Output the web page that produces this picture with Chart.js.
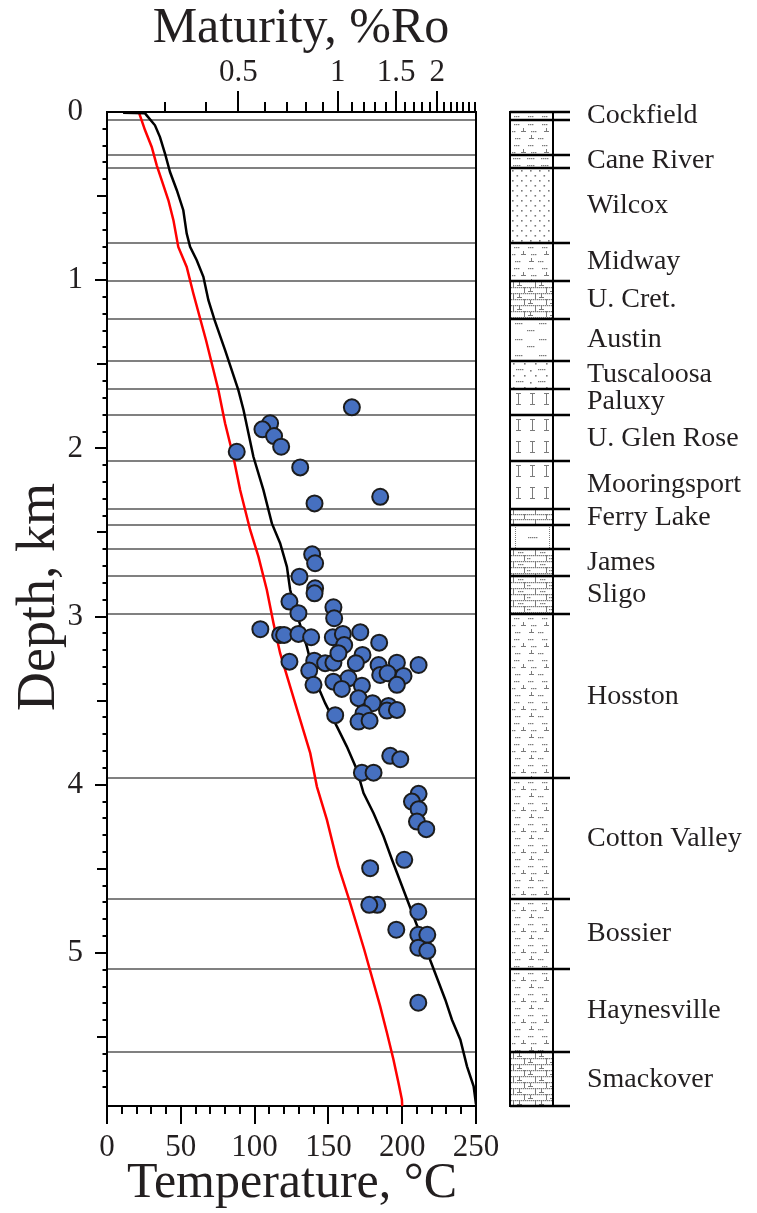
<!DOCTYPE html>
<html>
<head>
<meta charset="utf-8">
<script src="https://cdn.jsdelivr.net/npm/chart.js@4.4.1/dist/chart.umd.min.js"></script>
<style>
  html, body { margin: 0; padding: 0; background: #ffffff; }
  #wrap { position: relative; width: 757px; height: 1213px; }
  #wrap canvas { position: absolute; left: 0; top: 0; }
</style>
</head>
<body>
<div id="wrap">
  <canvas id="profile" width="757" height="1213"></canvas>
  <canvas id="column" width="757" height="1213"></canvas>
</div>
<script>
// ---- Well data -------------------------------------------------------------
// Measured temperatures (°C) and their depths (km)
const sampleTemp = [165.9, 110.5, 105.3, 113.2, 118.0, 87.9, 130.9, 185.1, 140.6, 139.0,
  141.0, 130.4, 141.0, 140.6, 153.4, 123.6, 129.7, 153.9, 103.9, 117.3,
  120.0, 129.7, 138.3, 153.0, 159.8, 171.6, 184.4, 160.7, 123.6, 140.4,
  147.8, 153.4, 156.8, 173.1, 168.6, 137.0, 184.0, 196.4, 211.1, 185.1,
  190.1, 200.9, 163.6, 153.4, 139.9, 172.7, 196.4, 159.1, 170.4, 179.9,
  190.7, 189.7, 196.4, 173.8, 170.4, 177.9, 154.6, 191.9, 198.7, 172.7,
  180.6, 211.1, 206.6, 211.1, 210.0, 216.3, 201.4, 178.3, 183.1, 177.7,
  210.9, 196.0, 210.9, 217.0, 210.9, 217.0, 210.9];
const sampleDepth = [1.756, 1.851, 1.887, 1.927, 1.990, 2.020, 2.113, 2.288, 2.327, 2.630,
  2.683, 2.763, 2.832, 2.862, 2.945, 2.911, 2.980, 3.010, 3.075, 3.109,
  3.109, 3.103, 3.123, 3.123, 3.103, 3.093, 3.155, 3.169, 3.268, 3.262,
  3.277, 3.274, 3.218, 3.228, 3.277, 3.321, 3.288, 3.274, 3.288, 3.347,
  3.337, 3.353, 3.367, 3.387, 3.406, 3.411, 3.406, 3.430, 3.485, 3.515,
  3.531, 3.559, 3.555, 3.575, 3.624, 3.619, 3.586, 3.828, 3.848, 3.928,
  3.928, 4.054, 4.100, 4.145, 4.219, 4.264, 4.446, 4.496, 4.714, 4.714,
  4.755, 4.862, 4.892, 4.892, 4.969, 4.987, 5.296];

// Modelled profile (black)
const blackTemp = [10.9, 25.8, 26.9, 32.5, 35.9, 39.3, 42.7, 47.3, 51.7, 54.0,
  56.3, 60.8, 65.3, 68.7, 72.9, 80.0, 89.0, 92.5, 99.2, 106.0,
  111.7, 117.3, 121.9, 124.1, 128.8, 135.4, 141.0, 147.8, 155.8, 162.5,
  169.3, 173.8, 180.6, 187.4, 193.1, 203.4, 216.3, 229.2, 233.7, 239.4,
  243.9, 248.4, 250.0];
const blackDepth = [0.005, 0.008, 0.02, 0.079, 0.149, 0.247, 0.357, 0.465, 0.584, 0.723,
  0.802, 0.881, 0.980, 1.119, 1.238, 1.416, 1.654, 1.772, 2.050, 2.248,
  2.446, 2.564, 2.704, 2.842, 2.990, 3.179, 3.376, 3.515, 3.654, 3.773,
  3.911, 4.050, 4.169, 4.308, 4.446, 4.684, 4.981, 5.278, 5.397, 5.516,
  5.674, 5.793, 5.900];

// Modelled profile (red)
const redTemp = [21.9, 25.8, 30.3, 33.7, 37.1, 41.6, 45.0, 48.3, 54.0, 58.5,
  67.1, 75.5, 80.0, 85.6, 90.2, 97.0, 102.6, 108.3, 112.8, 117.3,
  124.1, 130.9, 137.7, 142.2, 149.0, 156.8, 164.1, 174.3, 185.1, 189.7,
  194.1, 197.5, 199.8, 200.0];
const redDepth = [0.01, 0.109, 0.208, 0.317, 0.406, 0.525, 0.643, 0.802, 0.921, 1.079,
  1.357, 1.654, 1.851, 2.050, 2.248, 2.485, 2.644, 2.842, 3.040, 3.218,
  3.417, 3.614, 3.812, 4.011, 4.209, 4.486, 4.684, 4.981, 5.318, 5.476,
  5.635, 5.773, 5.872, 5.910];

// ---- Stratigraphy ----------------------------------------------------------
const formationNames = ['Cockfield', '', 'Cane River', 'Wilcox', 'Midway', 'U. Cret.',
  'Austin', 'Tuscaloosa', 'Paluxy', 'U. Glen Rose', 'Mooringsport', 'Ferry Lake', '',
  'James', 'Sligo', 'Hosston', 'Cotton Valley', 'Bossier', 'Haynesville', 'Smackover'];
const formationTops = [0, 0.045, 0.253, 0.330, 0.778, 1.003, 1.228, 1.481, 1.644, 1.804,
  2.075, 2.362, 2.457, 2.600, 2.759, 2.986, 3.961, 4.680, 5.096, 5.591];
const formationLithology = ['shale-silt', 'shale-silt', 'shale', 'sand', 'shale-silt', 'lime-silt',
  'chalk', 'sand-shale', 'dolomite', 'dolomite', 'dolomite', 'lime', 'anhydrite',
  'lime-shale', 'lime-shale', 'shale-silt', 'shale-silt', 'shale-silt', 'shale-silt', 'lime-silt'];
const totalDepth = 5.91;

// ---- Axes ------------------------------------------------------------------
const tempTicks = [0, 50, 100, 150, 200, 250];
const depthTicks = [0, 1, 2, 3, 4, 5];
const roTicks = [0.5, 1, 1.5, 2];
const roRange = [0.2, 2.62];

const SERIF = "'Liberation Serif', 'Times New Roman', serif";
const INK = '#231f20';

function fixedTicks(values) {
  return scale => { scale.ticks = values.map(v => ({ value: v })); };
}

// Tick marks: long at labelled values, short in between
const tickMarks = {
  id: 'tickMarks',
  afterDraw(chart) {
    const { ctx, chartArea: a, scales: { x, x2, y } } = chart;
    ctx.save();
    ctx.strokeStyle = '#000';
    ctx.lineWidth = 2;
    ctx.beginPath();
    for (let t = 0; t <= 250; t += 10) {
      const px = Math.round(x.getPixelForValue(t));
      const len = t % 50 === 0 ? 18 : 8;
      ctx.moveTo(px, a.bottom); ctx.lineTo(px, a.bottom + len);
    }
    for (let k = 1; k < 59; k++) {
      const py = Math.round(y.getPixelForValue(k / 10));
      const len = k % 10 === 0 ? 12 : (k % 5 === 0 ? 10 : 4.5);
      ctx.moveTo(a.left, py); ctx.lineTo(a.left - len, py);
    }
    const roMinor = [];
    for (let k = 3; k <= 26; k++) roMinor.push(k / 10);
    roMinor.forEach(v => {
      const px = Math.round(x2.getPixelForValue(v));
      const major = roTicks.some(m => Math.abs(m - v) < 1e-9);
      const len = major ? 21 : 10;
      ctx.moveTo(px, a.top); ctx.lineTo(px, a.top - len);
    });
    ctx.stroke();
    ctx.restore();
  }
};

// Axis titles
const axisTitles = {
  id: 'axisTitles',
  afterDraw(chart) {
    const { ctx } = chart;
    ctx.save();
    ctx.fillStyle = INK;
    ctx.textAlign = 'center';
    ctx.textBaseline = 'middle';
    ctx.font = `50px ${SERIF}`;
    ctx.fillText('Maturity, %Ro', 301, 29);
    ctx.fillText('Temperature, °C', 292, 1184);
    ctx.translate(40, 597);
    ctx.rotate(-Math.PI / 2);
    ctx.font = `54px ${SERIF}`;
    ctx.fillText('Depth, km', 0, 0);
    ctx.restore();
  }
};

const tickFont = { family: SERIF, size: 31, lineHeight: 1 };

new Chart(document.getElementById('profile'), {
  type: 'scatter',
  data: {
    datasets: [
      {
        label: 'Measured',
        data: sampleTemp.map((t, i) => ({ x: t, y: sampleDepth[i] })),
        pointRadius: 8,
        pointBackgroundColor: '#4670c0',
        pointBorderColor: '#1c1c1c',
        pointBorderWidth: 2,
        xAxisID: 'x', yAxisID: 'y'
      },
      {
        label: 'Black profile',
        data: blackTemp.map((t, i) => ({ x: t, y: blackDepth[i] })),
        showLine: true, borderColor: '#000000', borderWidth: 2.5,
        pointRadius: 0, xAxisID: 'x', yAxisID: 'y'
      },
      {
        label: 'Red profile',
        data: redTemp.map((t, i) => ({ x: t, y: redDepth[i] })),
        showLine: true, borderColor: '#ff0000', borderWidth: 2.5,
        pointRadius: 0, xAxisID: 'x', yAxisID: 'y'
      }
    ]
  },
  options: {
    responsive: false,
    animation: false,
    devicePixelRatio: 1,
    layout: { padding: { left: 0, right: 281, top: 0, bottom: 0 } },
    plugins: { legend: { display: false }, tooltip: { enabled: false } },
    scales: {
      x: {
        type: 'linear', position: 'bottom', min: 0, max: 250,
        afterBuildTicks: fixedTicks(tempTicks),
        afterFit: s => { s.height = 107; },
        grid: { display: false, drawTicks: false },
        border: { display: true, color: '#000', width: 2 },
        ticks: { font: tickFont, color: INK, padding: 26, maxRotation: 0, minRotation: 0, autoSkip: false }
      },
      x2: {
        type: 'logarithmic', position: 'top', min: roRange[0], max: roRange[1],
        afterBuildTicks: fixedTicks(roTicks),
        afterFit: s => { s.height = 112; },
        grid: { display: false, drawTicks: false },
        border: { display: true, color: '#000', width: 2 },
        ticks: { font: tickFont, color: INK, padding: 24, maxRotation: 0, minRotation: 0, autoSkip: false,
                 callback: v => String(v) }
      },
      y: {
        type: 'linear', position: 'left', reverse: true, min: 0, max: totalDepth,
        afterBuildTicks: fixedTicks(depthTicks),
        afterFit: s => { s.width = 107; },
        grid: { display: false, drawTicks: false },
        border: { display: true, color: '#000', width: 2 },
        ticks: { font: tickFont, color: INK, padding: 24, autoSkip: false }
      },
      y2: {
        type: 'linear', position: 'right', reverse: true, min: 0, max: totalDepth,
        afterBuildTicks: fixedTicks(formationTops.slice(1)),
        afterFit: s => { s.width = 0; },
        grid: { display: true, drawTicks: false, color: '#808080', lineWidth: 2 },
        border: { display: true, color: '#000', width: 2 },
        ticks: { display: false }
      }
    }
  },
  plugins: [tickMarks, axisTitles]
});

// ---- Lithology column --------------------------------------------------------
function lithologyTile(kind) {
  const c = document.createElement('canvas');
  const g = c.getContext('2d');
  const sizes = {
    'shale-silt': [43, 21], 'shale': [14, 7], 'sand': [9, 10], 'lime-silt': [22, 12],
    'chalk': [43, 16], 'sand-shale': [22, 12], 'dolomite': [14, 22], 'lime': [22, 10],
    'anhydrite': [43, 24], 'lime-shale': [22, 12]
  };
  [c.width, c.height] = sizes[kind];
  g.fillStyle = '#7a7a7a';
  const dot = (x, y, w = 1, h = 1) => g.fillRect(x, y, w, h);
  const dash = (x, y, n) => { for (let k = 0; k < n; k++) dot(x + k * 2, y, 1.4, 1.2); };
  const silt = (x, y) => { dot(x, y - 3, 1, 3); dot(x - 2, y, 5, 1); };
  const brick = (w, h) => {
    dash(0, 0, w / 2);
    dash(0, h / 2, w / 2);
    for (let k = 0; k < h / 2; k++) { dot(2, k, 1, 1); dot(2 + w / 2, h / 2 + k, 1, 1); }
  };
  switch (kind) {
    case 'shale-silt':
      dash(3, 4, 3); dash(17, 4, 3); dash(31, 4, 3);
      dash(1, 11, 2); silt(12, 11); dash(20, 11, 3); silt(35, 11);
      dash(4, 18, 3); silt(20, 18); dash(27, 18, 3);
      break;
    case 'shale':
      dash(2, 3, 4); break;
    case 'sand':
      dot(1, 2, 1.6, 1.6); dot(5.5, 7, 1.6, 1.6); break;
    case 'lime-silt':
      brick(22, 12); silt(8, 4); silt(19, 10); break;
    case 'chalk':
      dash(4, 4, 4); dash(28, 4, 4); dash(16, 11, 4); break;
    case 'sand-shale':
      dot(2, 2, 1.6, 1.6); dot(13, 2, 1.6, 1.6); dash(5, 8, 4); dot(19, 9, 1.6, 1.6); break;
    case 'dolomite':
      dot(7, 4, 1, 12); dot(5, 4, 5, 1); dot(5, 15, 5, 1); break;
    case 'lime':
      brick(22, 10); break;
    case 'lime-shale':
      brick(22, 12); dash(7, 3, 3); dash(16, 9, 2); break;
    case 'anhydrite':
      for (let k = 0; k < 24; k += 2) { dot(4, k, 1, 1); dot(38, k, 1, 1); }
      dash(17, 12, 5); break;
  }
  return c;
}

function lithologyFill(context, index) {
  const chart = context.chart;
  const area = chart.chartArea;
  const yScale = chart.scales.y;
  if (!area || !yScale) return '#ffffff';
  const pattern = chart.ctx.createPattern(lithologyTile(formationLithology[index]), 'repeat');
  const top = yScale.getPixelForValue(formationTops[index]);
  pattern.setTransform(new DOMMatrix([1, 0, 0, 1, area.left + 1, Math.round(top)]));
  return pattern;
}

const columnFrame = {
  id: 'columnFrame',
  afterDraw(chart) {
    const { ctx, chartArea: a, scales: { y } } = chart;
    ctx.save();
    ctx.strokeStyle = '#000';
    ctx.lineWidth = 2;
    ctx.strokeRect(a.left, a.top, a.right - a.left, a.bottom - a.top);
    ctx.lineWidth = 2.5;
    ctx.beginPath();
    formationTops.concat([totalDepth]).forEach(d => {
      const py = Math.round(y.getPixelForValue(d));
      ctx.moveTo(a.left, py); ctx.lineTo(a.right + 17, py);
    });
    ctx.stroke();
    ctx.fillStyle = INK;
    ctx.font = `28px ${SERIF}`;
    ctx.textAlign = 'left';
    ctx.textBaseline = 'middle';
    formationNames.forEach((name, i) => {
      if (!name) return;
      const base = i + 1 < formationTops.length ? formationTops[i + 1] : totalDepth;
      const py = y.getPixelForValue((formationTops[i] + base) / 2);
      ctx.fillText(name, a.right + 34, py);
    });
    ctx.restore();
  }
};

new Chart(document.getElementById('column'), {
  type: 'bar',
  data: {
    labels: ['Formation'],
    datasets: formationNames.map((name, i) => ({
      label: name,
      data: [[formationTops[i], i + 1 < formationTops.length ? formationTops[i + 1] : totalDepth]],
      backgroundColor: ctx => lithologyFill(ctx, i),
      borderWidth: 0,
      grouped: false,
      barPercentage: 1,
      categoryPercentage: 1
    }))
  },
  options: {
    responsive: false,
    animation: false,
    devicePixelRatio: 1,
    layout: { padding: { left: 510, right: 204, top: 112, bottom: 107 } },
    plugins: { legend: { display: false }, tooltip: { enabled: false } },
    scales: {
      x: { display: false },
      y: { display: false, reverse: true, min: 0, max: totalDepth }
    }
  },
  plugins: [columnFrame]
});
</script>
</body>
</html>
